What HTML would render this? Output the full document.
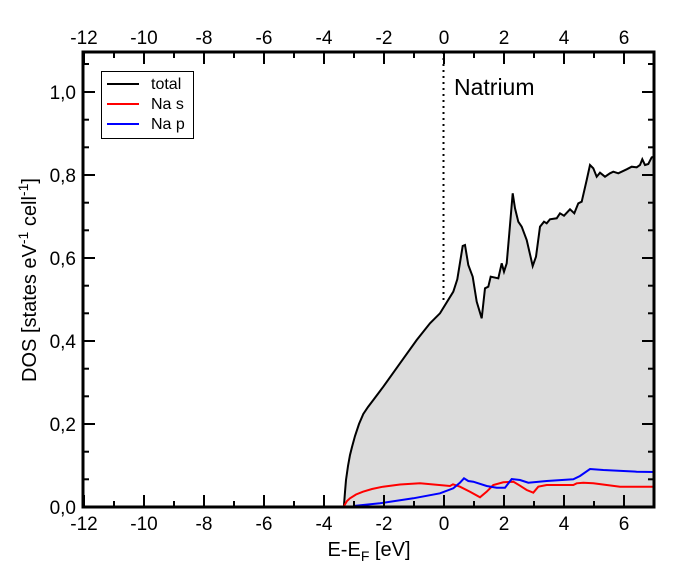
<!DOCTYPE html>
<html><head><meta charset="utf-8"><style>body{margin:0;background:#fff}svg{display:block;font-family:"Liberation Sans",sans-serif}</style></head><body>
<svg width="689" height="573" viewBox="0 0 689 573" xmlns="http://www.w3.org/2000/svg">
<rect width="689" height="573" fill="#fff"/>
<polygon fill="#dcdcdc" points="344,507 344,505 345,492 346,480 348,466 350,455 352,447 355,436 359,424 363.3,414 368,407 373.3,400 383.3,386.7 400,363.3 416.7,340 430,323.3 440,313.3 453.3,291.7 457.3,279.3 462.7,246 465,245 468.3,265 472.7,276.7 476.7,301.7 481.7,318.3 485,288.3 488.3,286.7 490.7,276.7 498.3,278.3 501.7,263.3 504,271.7 506.7,263.3 509.3,233.3 512.7,193.3 515,208.3 518.3,221.7 521.7,226.7 526.7,240 532.7,266 536,256.7 540,226.7 544,221.7 546.7,223.3 550,219.3 556.7,218.3 560,213.3 564,215.7 570,209.3 574.3,213.3 578.3,203.3 581.7,201.7 586.7,180 590,165 593.3,168.3 596.7,176.7 600,172.7 605,176.7 610,173.3 613.3,171.7 618.3,173.3 626.7,169.3 631.7,166.7 636.7,167.3 640,165 642.3,159.3 645,165 648.3,164 651.7,157.3 654,156.7 654,507"/>
<line x1="443.5" y1="52" x2="443.5" y2="300" stroke="#000" stroke-width="2" stroke-dasharray="2,4"/>
<polyline fill="none" stroke="#000" stroke-width="2" points="344,507 344,505 345,492 346,480 348,466 350,455 352,447 355,436 359,424 363.3,414 368,407 373.3,400 383.3,386.7 400,363.3 416.7,340 430,323.3 440,313.3 453.3,291.7 457.3,279.3 462.7,246 465,245 468.3,265 472.7,276.7 476.7,301.7 481.7,318.3 485,288.3 488.3,286.7 490.7,276.7 498.3,278.3 501.7,263.3 504,271.7 506.7,263.3 509.3,233.3 512.7,193.3 515,208.3 518.3,221.7 521.7,226.7 526.7,240 532.7,266 536,256.7 540,226.7 544,221.7 546.7,223.3 550,219.3 556.7,218.3 560,213.3 564,215.7 570,209.3 574.3,213.3 578.3,203.3 581.7,201.7 586.7,180 590,165 593.3,168.3 596.7,176.7 600,172.7 605,176.7 610,173.3 613.3,171.7 618.3,173.3 626.7,169.3 631.7,166.7 636.7,167.3 640,165 642.3,159.3 645,165 648.3,164 651.7,157.3 654,156.7"/>
<polyline fill="none" stroke="#ff0000" stroke-width="2" points="344,506 347,501 350,498.3 356,494.5 363,491.7 372,489 383,486.7 400,484.5 420,483.3 450,486 453,484.3 460,486.7 470,491.7 480,497.3 486.7,491.7 493.3,485 503.3,482.3 513.3,481.7 520,485.7 526.7,490 533.3,492.7 538.3,486.7 546.7,485 573.3,485 576.7,483.3 583.3,482.7 593.3,483.3 606.7,485 620,486.7 654,486.7"/>
<polyline fill="none" stroke="#0000ff" stroke-width="2" points="353.3,506 380,503.3 413.3,498.3 440,493.3 453.3,488.3 460,482.7 464,478.3 468.3,481 473.3,481.7 486.7,486 496.7,487.7 505,487.7 511.7,479 520,480 528.3,482.7 546.7,481 573.3,479.3 580,476 590,469 603.3,470 636.7,471.7 654,472"/>
<g stroke="#000" stroke-width="2">
<line x1="84" y1="507" x2="84" y2="495"/><line x1="144" y1="507" x2="144" y2="495"/><line x1="204" y1="507" x2="204" y2="495"/><line x1="264" y1="507" x2="264" y2="495"/><line x1="324" y1="507" x2="324" y2="495"/><line x1="384" y1="507" x2="384" y2="495"/><line x1="444" y1="507" x2="444" y2="495"/><line x1="504" y1="507" x2="504" y2="495"/><line x1="564" y1="507" x2="564" y2="495"/><line x1="624" y1="507" x2="624" y2="495"/>
<line x1="114" y1="507" x2="114" y2="501"/><line x1="174" y1="507" x2="174" y2="501"/><line x1="234" y1="507" x2="234" y2="501"/><line x1="294" y1="507" x2="294" y2="501"/><line x1="354" y1="507" x2="354" y2="501"/><line x1="414" y1="507" x2="414" y2="501"/><line x1="474" y1="507" x2="474" y2="501"/><line x1="534" y1="507" x2="534" y2="501"/><line x1="594" y1="507" x2="594" y2="501"/>
<line x1="84" y1="52" x2="84" y2="64"/><line x1="144" y1="52" x2="144" y2="64"/><line x1="204" y1="52" x2="204" y2="64"/><line x1="264" y1="52" x2="264" y2="64"/><line x1="324" y1="52" x2="324" y2="64"/><line x1="384" y1="52" x2="384" y2="64"/><line x1="444" y1="52" x2="444" y2="64"/><line x1="504" y1="52" x2="504" y2="64"/><line x1="564" y1="52" x2="564" y2="64"/><line x1="624" y1="52" x2="624" y2="64"/>
<line x1="114" y1="52" x2="114" y2="58"/><line x1="174" y1="52" x2="174" y2="58"/><line x1="234" y1="52" x2="234" y2="58"/><line x1="294" y1="52" x2="294" y2="58"/><line x1="354" y1="52" x2="354" y2="58"/><line x1="414" y1="52" x2="414" y2="58"/><line x1="474" y1="52" x2="474" y2="58"/><line x1="534" y1="52" x2="534" y2="58"/><line x1="594" y1="52" x2="594" y2="58"/>
<line x1="83" y1="424" x2="95" y2="424"/><line x1="83" y1="341" x2="95" y2="341"/><line x1="83" y1="258" x2="95" y2="258"/><line x1="83" y1="175" x2="95" y2="175"/><line x1="83" y1="92" x2="95" y2="92"/>
<line x1="83" y1="479.3" x2="89" y2="479.3"/><line x1="83" y1="451.7" x2="89" y2="451.7"/><line x1="83" y1="396.3" x2="89" y2="396.3"/><line x1="83" y1="368.7" x2="89" y2="368.7"/><line x1="83" y1="313.3" x2="89" y2="313.3"/><line x1="83" y1="285.7" x2="89" y2="285.7"/><line x1="83" y1="230.3" x2="89" y2="230.3"/><line x1="83" y1="202.7" x2="89" y2="202.7"/><line x1="83" y1="147.3" x2="89" y2="147.3"/><line x1="83" y1="119.7" x2="89" y2="119.7"/><line x1="83" y1="64" x2="89" y2="64"/>
<line x1="654" y1="424" x2="642" y2="424"/><line x1="654" y1="341" x2="642" y2="341"/><line x1="654" y1="258" x2="642" y2="258"/><line x1="654" y1="175" x2="642" y2="175"/><line x1="654" y1="92" x2="642" y2="92"/>
<line x1="654" y1="479.3" x2="648" y2="479.3"/><line x1="654" y1="451.7" x2="648" y2="451.7"/><line x1="654" y1="396.3" x2="648" y2="396.3"/><line x1="654" y1="368.7" x2="648" y2="368.7"/><line x1="654" y1="313.3" x2="648" y2="313.3"/><line x1="654" y1="285.7" x2="648" y2="285.7"/><line x1="654" y1="230.3" x2="648" y2="230.3"/><line x1="654" y1="202.7" x2="648" y2="202.7"/><line x1="654" y1="147.3" x2="648" y2="147.3"/><line x1="654" y1="119.7" x2="648" y2="119.7"/><line x1="654" y1="64" x2="648" y2="64"/>
</g>
<rect x="83" y="52" width="571" height="455" fill="none" stroke="#000" stroke-width="3"/>
<g font-size="19" text-anchor="middle">
<text x="84" y="530">-12</text><text x="144" y="530">-10</text><text x="204" y="530">-8</text><text x="264" y="530">-6</text><text x="324" y="530">-4</text><text x="384" y="530">-2</text><text x="444" y="530">0</text><text x="504" y="530">2</text><text x="564" y="530">4</text><text x="624" y="530">6</text>
<text x="84" y="44">-12</text><text x="144" y="44">-10</text><text x="204" y="44">-8</text><text x="264" y="44">-6</text><text x="324" y="44">-4</text><text x="384" y="44">-2</text><text x="444" y="44">0</text><text x="504" y="44">2</text><text x="564" y="44">4</text><text x="624" y="44">6</text>
</g>
<g font-size="19" text-anchor="end">
<text x="76" y="514">0,0</text><text x="76" y="431">0,2</text><text x="76" y="348">0,4</text><text x="76" y="265">0,6</text><text x="76" y="182">0,8</text><text x="76" y="99">1,0</text>
</g>
<text x="369" y="556" font-size="20" text-anchor="middle">E-E<tspan font-size="14" dy="5">F</tspan><tspan dy="-5"> [eV]</tspan></text>
<text transform="translate(36,280) rotate(-90)" font-size="20" text-anchor="middle">DOS [states eV<tspan font-size="14" dy="-8">-1</tspan><tspan dy="8"> cell</tspan><tspan font-size="14" dy="-8">-1</tspan><tspan dy="8">]</tspan></text>
<text x="454" y="95" font-size="23">Natrium</text>
<rect x="101.5" y="71.5" width="92" height="67" fill="#fff" stroke="#000" stroke-width="1"/>
<line x1="107" y1="84" x2="139" y2="84" stroke="#000" stroke-width="2"/>
<line x1="107" y1="104" x2="139" y2="104" stroke="#ff0000" stroke-width="2"/>
<line x1="107" y1="124" x2="139" y2="124" stroke="#0000ff" stroke-width="2"/>
<g font-size="16"><text x="151" y="89">total</text><text x="151" y="109">Na s</text><text x="151" y="129">Na p</text></g>
</svg>
</body></html>
